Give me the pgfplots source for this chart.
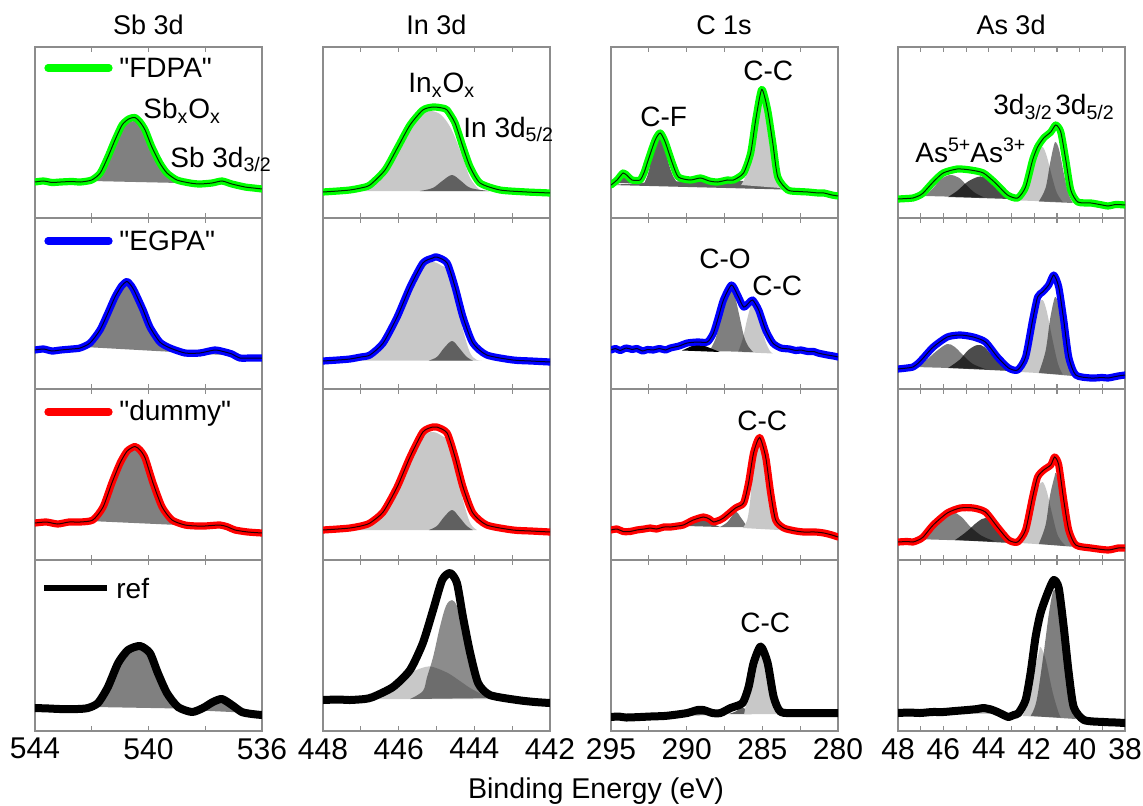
\documentclass[border=0pt]{standalone}
\usepackage{fontspec}
\setmainfont{Liberation Sans}[Ligatures=TeXOff]
\usepackage{pgfplots}
\usepackage{pgfplotstable}
\pgfplotsset{compat=1.18}
\definecolor{fgreen}{RGB}{0,255,0}
\definecolor{fblue}{RGB}{0,0,255}
\definecolor{fred}{RGB}{255,0,0}
\definecolor{lgray}{RGB}{200,200,200}
\definecolor{mgray}{RGB}{128,128,128}
\definecolor{dgray}{RGB}{96,96,96}
\definecolor{frame}{RGB}{140,140,140}
\pgfplotsset{
 panel/.style={width=113.5pt, height=85.5pt, scale only axis, anchor=south west,
   x dir=reverse, ymin=0, ymax=171, ytick=\empty,
   axis line style={draw=frame, line width=0.6pt},
   tick style={draw=frame, line width=0.6pt},
   major tick length=2.5pt, minor tick length=2.5pt, tick align=inside,
   xticklabel style={font=\fontsize{15}{15}\selectfont},
   /pgf/number format/assume math mode=true},
 colSb/.style={xmin=536, xmax=544, xtick={536,540,544}, minor xtick={538,542}},
 colIn/.style={xmin=442, xmax=448, xtick={442,444,446,448}, minor xtick={443,445,447}},
 colC/.style={xmin=280, xmax=295, xtick={280,285,290,295}, minor xtick={282.5,287.5,292.5}},
 colAs/.style={xmin=38, xmax=48, xtick={38,40,...,48}, minor xtick={39,41,...,47}},
 nolab/.style={xticklabels={}},
 data/.style={smooth, tension=0.4, line width=3.6pt, line join=round, line cap=round},
 refdata/.style={smooth, tension=0.4, line width=4pt, line join=round, line cap=round, black},
 fitline/.style={smooth, tension=0.4, black, line width=0.5pt, opacity=0.85},
 comp/.style={smooth, tension=0.55, draw=none},
}
% ---------------- data tables ----------------
\pgfplotstableread{
x y
544 36
543.7 37
543.4 35.5
543.1 36
542.7 36.5
542.4 36
542.0 38
541.7 45
541.43 61
541.18 78
540.93 93
540.7 99
540.48 100.5
540.3 96
540.12 88
539.88 71
539.6 55
539.35 45
539.0 38
538.54 35
538.2 34
537.76 35
537.41 37
537.06 34
536.6 31
536.3 30
536 29
}\SbA
\pgfplotstableread{
x y
544 39
543.7 40
543.4 38
543.1 39
542.7 40
542.41 41
542.06 46
541.71 59
541.43 76
541.18 92
540.95 103
540.76 107.5
540.6 103
540.48 97
540.19 79
539.95 62
539.6 47
539.24 41
538.71 36
538.19 36
537.66 39
537.3 37
537.06 35
536.78 31
536.4 31
536 31
}\SbB
\pgfplotstableread{
x y
544 37
543.6 38
543.2 36
542.8 38
542.41 38
541.96 40
541.6 53
541.29 77
541.0 97
540.75 109
540.48 113.5
540.3 110
540.12 102
539.84 77
539.52 53
539.17 40
538.71 35
538.3 34
538.01 34
537.48 35
537.2 33
536.95 30
536.5 28
536 27
}\SbC
\pgfplotstableread{
x y
544 23
543.5 22.5
543.12 22
542.5 22
542.13 23
541.78 28
541.43 44
541.07 68
540.72 81
540.3 85
539.95 78
539.67 58
539.35 38
538.96 24
538.47 19
538.08 23
537.73 29
537.41 32
537.06 26
536.71 19
536.35 17
536 16
}\SbD
\pgfplotstableread{
x y
448 26
447.6 27
447.29 28
447.0 30
446.76 33
446.36 48
446.02 71
445.7 93
445.36 108
445.09 111
444.85 110
444.72 108
444.51 95
444.30 71
444.11 51
443.85 35
443.32 28
442.61 26
442.3 25.5
442 25
}\InA
\pgfplotstableread{
x y
448 28
447.6 29
447.29 30
447.0 32
446.76 34
446.41 46
446.04 72
445.7 102
445.36 126
445.1 131
444.99 132
444.72 126
444.51 102
444.30 72
444.04 46
443.67 34
442.98 29
442.5 28
442 27
}\InB
\pgfplotstableread{
x y
448 30
447.6 31
447.29 32
447.0 34
446.76 37
446.41 48
446.04 73
445.7 103
445.36 128
445.1 133
444.99 133
444.72 127
444.51 103
444.30 73
444.04 47
443.67 35
442.98 30
442.5 29
442 28
}\InC
\pgfplotstableread{
x y
448 31
447.6 31.5
447.29 31
446.9 32
446.68 34
446.15 44
445.7 61
445.36 88
445.09 121
444.85 151
444.64 158
444.46 148
444.30 114
444.11 78
443.90 48
443.59 36
442.87 31
442.4 29
442 28
}\InD
\pgfplotstableread{
x y
295 33
294.6 38
294.2 45
293.9 42
293.61 38
293.08 38
292.8 46
292.54 58
292.08 78
291.75 85
291.42 76
290.95 55
290.55 41
289.76 38
289.09 40
288.5 37
287.96 36
287.3 38
286.90 38
286.24 45
285.77 65
285.44 98
285.04 128.5
284.65 108
284.31 75
283.98 41
283.32 28
282.6 26.5
281.99 26
281.3 25
280.93 25
280.4 23
280 22
}\CA
\pgfplotstableread{
x y
295 39
294.7 40.5
294.4 38.5
294.0 41
293.6 39.5
293.3 40.5
292.9 38
292.6 39.5
292.2 39
291.8 40.5
291.4 39
291.08 41
290.5 43
289.96 46
289.29 47
288.63 47
288.23 56
287.90 72
287.57 89
287.04 104
286.64 94
286.24 82
285.9 86
285.64 89
285.24 79
284.78 59
284.31 46
283.78 41
283.2 40
282.8 38.5
282.46 39
282.0 37.5
281.6 37.5
281.33 36
280.7 34
280.3 33
280 32
}\CB
\pgfplotstableread{
x y
295 30
294.6 31
294.2 28.5
293.74 28.5
293.3 30
292.8 31
292.41 32
292.0 31
291.5 33
291.08 33
290.6 34
290.22 35
289.56 40
288.89 43
288.5 41
288.23 38
287.8 40
287.57 42
286.77 52
286.24 57
285.91 77
285.58 107
285.18 122.5
284.78 103
284.45 67
284.12 40
283.58 32
282.8 29
282.26 28
281.5 28
280.93 27
280.4 25
280 23
}\CC
\pgfplotstableread{
x y
295 14
294.5 14.5
294 13.5
293.08 14
292.4 14.5
291.5 15
290.88 16
289.96 18
289.29 21
288.89 21
288.30 18
287.77 18
287.10 23
286.31 28
285.91 44
285.58 68
285.11 84.5
284.65 68
284.25 34
283.78 19
282.65 18
281.5 18
280.93 18
280 18
}\CD
\pgfplotstableread{
x y
48 19
47.6 19.5
47.34 20
47.1 22
46.89 25
46.45 36
46.01 45
45.39 49
44.81 48
44.24 45
43.71 35
43.18 23
42.73 20
42.38 31
42.07 58
41.85 71
41.58 80
41.27 86
41.05 93
40.83 86
40.61 58
40.39 28
40.08 16
39.5 15
39.0 13
38.75 12
38.4 13.5
38 13
}\AsA
\pgfplotstableread{
x y
48 20
47.6 21
47.34 22
47.1 26
46.89 31
46.45 42
45.83 52
45.26 54
44.68 52
44.15 47
43.62 32
43.13 21
42.73 19
42.38 32
42.07 69
41.85 92
41.63 97
41.36 104
41.14 114
40.92 102
40.70 69
40.48 32
40.17 14
39.5 11
39.0 11.5
38.75 11
38.3 13
38 14
}\AsB
\pgfplotstableread{
x y
48 18
47.6 18.5
47.34 18
47.1 20
46.89 23
46.45 35
45.83 47
45.26 52
44.68 52
44.15 48
43.62 33
43.13 20
42.73 18
42.38 30
42.07 63
41.85 83
41.58 90
41.27 95
41.10 103
40.92 95
40.70 60
40.48 30
40.17 15
39.5 12
38.75 10
38.3 12
38 12
}\AsC
\pgfplotstableread{
x y
48 18
47.5 18.5
47.03 18
46.5 19
46.01 19
45.5 20
44.95 21
44.5 22
44.24 23
43.9 21.5
43.62 19
43.3 15.5
43.13 14
42.9 16
42.69 18
42.38 31
42.16 58
41.94 94
41.72 118
41.41 138
41.14 151
40.92 143
40.70 104
40.48 58
40.26 24
39.81 11
38.93 9
38.4 8.5
38 8
}\AsD
\begin{document}
\begin{tikzpicture}
\useasboundingbox (0pt,0pt) rectangle (571.5pt,402.5pt);
% ===================== Sb 3d =====================
\begin{axis}[panel, colSb, nolab, at={(17.5pt,293.5pt)}]
\addplot[comp, fill=mgray] coordinates {(542.0,37) (541.7,42) (541.43,57) (541.18,74) (540.93,88) (540.7,95) (540.48,97) (540.3,93) (540.12,85) (539.88,68) (539.6,52) (539.35,42) (539.1,37) (538.9,35)} -- cycle;
\addplot[comp, fill=mgray] coordinates {(537.9,34) (537.6,35.5) (537.41,37) (537.2,35.5) (536.9,33)} -- cycle;
\addplot[data, fgreen] table {\SbA};
\addplot[fitline] table {\SbA};
\end{axis}
\begin{axis}[panel, colSb, nolab, at={(17.5pt,208pt)}]
\addplot[comp, fill=mgray] coordinates {(542.24,42) (542.06,45) (541.71,57) (541.43,73) (541.18,89) (540.95,100) (540.76,104) (540.6,100) (540.48,94) (540.19,76) (539.95,59) (539.6,44) (539.3,39) (539.1,37)} -- cycle;
\addplot[comp, fill=mgray] coordinates {(538.2,35) (537.9,36.5) (537.66,38) (537.4,36.5) (537.1,34)} -- cycle;
\addplot[data, fblue] table {\SbB};
\addplot[fitline] table {\SbB};
\end{axis}
\begin{axis}[panel, colSb, nolab, at={(17.5pt,122.5pt)}]
\addplot[comp, fill=mgray] coordinates {(542.06,39) (541.96,40) (541.6,51) (541.29,74) (541.0,94) (540.75,106) (540.48,110) (540.3,107) (540.12,99) (539.84,74) (539.52,50) (539.17,38) (538.96,35)} -- cycle;
\addplot[comp, fill=mgray] coordinates {(537.9,34) (537.6,35.5) (537.45,36) (537.2,34.5) (536.9,32)} -- cycle;
\addplot[data, fred] table {\SbC};
\addplot[fitline] table {\SbC};
\end{axis}
\begin{axis}[panel, colSb, at={(17.5pt,37pt)}]
\addplot[comp, fill=mgray] coordinates {(541.89,24) (541.78,27) (541.43,42) (541.07,65) (540.72,78) (540.3,82) (539.95,75) (539.67,55) (539.35,35) (539.0,24) (538.9,22.5)} -- cycle;
\addplot[comp, fill=mgray] coordinates {(538.2,20.5) (538.08,22) (537.73,27) (537.41,30) (537.06,24) (536.8,19) (536.7,18.5)} -- cycle;
\addplot[refdata] table {\SbD};
\end{axis}
% ===================== In 3d =====================
\begin{axis}[panel, colIn, nolab, at={(161.5pt,293.5pt)}]
\addplot[comp, fill=lgray] coordinates {(447.0,27) (446.76,31) (446.36,45) (446.02,68) (445.7,90) (445.36,104) (445.15,107) (444.91,104) (444.72,96) (444.56,85) (444.30,60) (444.11,40) (443.85,28) (443.6,27)} -- cycle;
\addplot[comp, fill=dgray] coordinates {(445.44,27) (445.1,30) (444.85,37) (444.59,43) (444.35,37) (444.1,30) (443.6,27)} -- cycle;
\addplot[data, fgreen] table {\InA};
\addplot[fitline] table {\InA};
\end{axis}
\begin{axis}[panel, colIn, nolab, at={(161.5pt,208pt)}]
\addplot[comp, fill=lgray] coordinates {(447.1,28.5) (446.76,32) (446.41,44) (446.04,69) (445.7,99) (445.36,122) (445.09,127) (444.85,123) (444.72,119) (444.51,92) (444.30,59) (444.11,36) (443.93,29) (443.8,28.5)} -- cycle;
\addplot[comp, fill=dgray] coordinates {(445.2,28.5) (444.99,32) (444.8,41) (444.59,48) (444.4,41) (444.2,32) (444.04,28.5)} -- cycle;
\addplot[data, fblue] table {\InB};
\addplot[fitline] table {\InB};
\end{axis}
\begin{axis}[panel, colIn, nolab, at={(161.5pt,122.5pt)}]
\addplot[comp, fill=lgray] coordinates {(447.1,30) (446.76,34) (446.41,45) (446.04,70) (445.7,100) (445.36,124) (445.09,128) (444.85,124) (444.72,119) (444.51,93) (444.30,60) (444.11,37) (443.93,30)} -- cycle;
\addplot[comp, fill=dgray] coordinates {(445.2,30) (444.99,34) (444.8,43) (444.59,50) (444.4,43) (444.2,34) (444.04,30)} -- cycle;
\addplot[data, fred] table {\InC};
\addplot[fitline] table {\InC};
\end{axis}
\begin{axis}[panel, colIn, at={(161.5pt,37pt)}]
\addplot[comp, fill=lgray] coordinates {(446.76,32) (446.5,36) (446.2,45) (445.7,58) (445.3,64) (445.09,64) (444.7,58) (444.38,50) (444.11,43) (443.8,37) (443.4,33) (443.2,32)} -- cycle;
\addplot[comp, fill=black, fill opacity=0.45] coordinates {(445.7,32) (445.36,40) (445.25,54) (445.09,74) (444.91,104) (444.75,125) (444.59,131) (444.45,124) (444.30,101) (444.11,71) (443.85,45) (443.52,33)} -- cycle;
\addplot[refdata] table {\InD};
\end{axis}
% ===================== C 1s =====================
\begin{axis}[panel, colC, nolab, at={(305.5pt,293.5pt)}]
\addplot[comp, fill=dgray] coordinates {(295,33) (292,36) (289,37) (286.3,37) (285,35) (283.6,28.5)} -- cycle;
\addplot[comp, fill=dgray] coordinates {(294.8,35) (294.5,38) (294.2,42) (293.9,38) (293.6,35)} -- cycle;
\addplot[comp, fill=dgray] coordinates {(292.8,35) (292.54,45) (292.2,68) (291.9,80) (291.75,82) (291.5,74) (291.2,55) (290.9,42) (290.6,35)} -- cycle;
\addplot[comp, fill=lgray] coordinates {(286.4,33) (286.1,42) (285.77,60) (285.44,92) (285.2,118) (285.04,124) (284.85,116) (284.65,102) (284.31,70) (284.0,42) (283.8,30)} -- cycle;
\addplot[data, fgreen] table {\CA};
\addplot[fitline] table {\CA};
\end{axis}
\begin{axis}[panel, colC, nolab, at={(305.5pt,208pt)}]
\addplot[comp, fill=black] coordinates {(290.3,38.5) (289.8,42) (289.29,45) (288.8,43) (288.3,40) (287.8,37)} -- cycle;
\addplot[comp, fill=lgray] coordinates {(286.6,37) (286.3,50) (286.0,70) (285.75,84) (285.6,86) (285.4,80) (285.1,65) (284.8,48) (284.5,38) (284.3,35.5)} -- cycle;
\addplot[comp, fill=black, fill opacity=0.5] coordinates {(288.5,38) (288.1,50) (287.7,72) (287.3,92) (287.04,100) (286.8,92) (286.5,72) (286.2,52) (285.9,42) (285.6,37)} -- cycle;
\addplot[data, fblue] table {\CB};
\addplot[fitline] table {\CB};
\end{axis}
\begin{axis}[panel, colC, nolab, at={(305.5pt,122.5pt)}]
\addplot[comp, fill=dgray] coordinates {(290.0,34) (289.5,37) (288.89,41) (288.4,37) (287.8,33)} -- cycle;
\addplot[comp, fill=black, fill opacity=0.55] coordinates {(287.8,33) (287.3,38) (286.77,48) (286.4,42) (286.0,33)} -- cycle;
\addplot[comp, fill=lgray] coordinates {(286.3,32) (286.0,40) (285.8,60) (285.58,98) (285.3,116) (285.18,118) (285.0,112) (284.78,98) (284.45,63) (284.2,40) (283.9,30)} -- cycle;
\addplot[data, fred] table {\CC};
\addplot[fitline] table {\CC};
\end{axis}
\begin{axis}[panel, colC, at={(305.5pt,37pt)}]
\addplot[comp, fill=dgray] coordinates {(290.2,15.5) (289.6,18) (289.2,20) (288.7,18) (288.2,16)} -- cycle;
\addplot[comp, fill=dgray] coordinates {(287.2,17) (286.7,20) (286.35,24) (286.0,20) (285.7,17)} -- cycle;
\addplot[comp, fill=lgray] coordinates {(286.2,17) (285.91,40) (285.58,64) (285.3,78) (285.11,80) (284.9,76) (284.65,64) (284.3,35) (284.0,20) (283.9,17)} -- cycle;
\addplot[refdata] table {\CD};
\end{axis}
% ===================== As 3d =====================
\begin{axis}[panel, colAs, nolab, at={(449pt,293.5pt)}]
\addplot[comp, fill=mgray] coordinates {(46.81,22) (46.45,30) (46.1,39) (45.7,43) (45.3,40) (44.95,32) (44.6,25) (44.2,20.5)} -- cycle;
\addplot[comp, fill=black, fill opacity=0.7] coordinates {(45.8,21) (45.4,27) (44.95,36) (44.5,41) (44.24,41) (43.9,36) (43.5,27) (43.04,19)} -- cycle;
\addplot[comp, fill=lgray] coordinates {(42.6,17.5) (42.3,30) (42.0,55) (41.8,66) (41.63,71) (41.45,62) (41.2,40) (41.0,25) (40.74,16)} -- cycle;
\addplot[comp, fill=black, fill opacity=0.5] coordinates {(41.8,16.5) (41.5,30) (41.3,55) (41.14,72) (41.05,76) (40.9,68) (40.7,45) (40.5,25) (40.3,15)} -- cycle;
\addplot[data, fgreen] table {\AsA};
\addplot[fitline] table {\AsA};
\end{axis}
\begin{axis}[panel, colAs, nolab, at={(449pt,208pt)}]
\addplot[comp, fill=mgray] coordinates {(47.25,22) (46.8,28) (46.3,38) (45.83,45) (45.5,42) (45.1,33) (44.7,25) (44.15,20)} -- cycle;
\addplot[comp, fill=black, fill opacity=0.7] coordinates {(45.8,21) (45.3,29) (44.9,39) (44.5,44) (44.2,42) (43.8,32) (43.4,23) (43.04,18)} -- cycle;
\addplot[comp, fill=lgray] coordinates {(42.6,17) (42.3,38) (42.0,70) (41.8,84) (41.63,89) (41.45,78) (41.2,50) (40.95,25) (40.74,14.5)} -- cycle;
\addplot[comp, fill=black, fill opacity=0.5] coordinates {(41.8,16) (41.5,38) (41.3,70) (41.14,88) (41.05,92) (40.9,82) (40.7,55) (40.5,28) (40.3,13)} -- cycle;
\addplot[data, fblue] table {\AsB};
\addplot[fitline] table {\AsB};
\end{axis}
\begin{axis}[panel, colAs, nolab, at={(449pt,122.5pt)}]
\addplot[comp, fill=mgray] coordinates {(47.25,21) (46.8,27) (46.3,38) (45.8,46) (45.57,48) (45.2,43) (44.8,33) (44.3,24) (43.71,18.5)} -- cycle;
\addplot[comp, fill=black, fill opacity=0.7] coordinates {(45.48,20) (45.0,28) (44.5,38) (44.15,42) (43.8,37) (43.4,27) (43.04,17)} -- cycle;
\addplot[comp, fill=lgray] coordinates {(42.6,17) (42.3,35) (42.0,62) (41.8,74) (41.63,78) (41.45,69) (41.2,45) (40.95,24) (40.61,14)} -- cycle;
\addplot[comp, fill=black, fill opacity=0.5] coordinates {(41.8,16) (41.5,35) (41.3,65) (41.1,84) (41.05,87) (40.9,78) (40.7,52) (40.45,26) (40.17,13)} -- cycle;
\addplot[data, fred] table {\AsC};
\addplot[fitline] table {\AsC};
\end{axis}
\begin{axis}[panel, colAs, at={(449pt,37pt)}]
\addplot[comp, fill=mgray, fill opacity=0.6] coordinates {(45.6,18) (45.0,19.5) (44.4,21) (44.0,20) (43.5,17)} -- cycle;
\addplot[comp, fill=lgray] coordinates {(42.51,15) (42.3,28) (42.0,60) (41.8,78) (41.72,84) (41.5,72) (41.2,40) (40.95,20) (40.83,13.5)} -- cycle;
\addplot[comp, fill=black, fill opacity=0.5] coordinates {(42.16,15) (41.9,30) (41.6,75) (41.35,118) (41.14,141) (40.95,130) (40.7,90) (40.45,45) (40.17,12)} -- cycle;
\addplot[refdata] table {\AsD};
\end{axis}
% ===================== texts =====================
\begin{scope}[every node/.style={inner sep=0pt}]
\node[anchor=base, font=\fontsize{13.5}{16}\selectfont] at (74.25pt,385pt) {Sb 3d};
\node[anchor=base, font=\fontsize{13.5}{16}\selectfont] at (218.25pt,385pt) {In 3d};
\node[anchor=base, font=\fontsize{13.5}{16}\selectfont] at (362pt,385pt) {C 1s};
\node[anchor=base, font=\fontsize{13.5}{16}\selectfont] at (505.5pt,385pt) {As 3d};
% legends
\draw[fgreen, line width=3.6pt, line cap=round] (24pt,368.5pt) -- (54.5pt,368.5pt);
\node[anchor=base west, font=\fontsize{14}{16}\selectfont] at (59.5pt,363.5pt) {"FDPA"};
\draw[fblue, line width=3.6pt, line cap=round] (24pt,282pt) -- (54.5pt,282pt);
\node[anchor=base west, font=\fontsize{14}{16}\selectfont] at (59.5pt,277.5pt) {"EGPA"};
\draw[fred, line width=3.6pt, line cap=round] (24pt,196.5pt) -- (54.5pt,196.5pt);
\node[anchor=base west, font=\fontsize{14}{16}\selectfont] at (59.5pt,192.5pt) {"dummy"};
\draw[black, line width=2.6pt] (22pt,108.5pt) -- (53.5pt,108.5pt);
\node[anchor=base west, font=\fontsize{14}{16}\selectfont] at (58pt,103.5pt) {ref};
% annotations
\node[anchor=base west, font=\fontsize{14}{16}\selectfont] at (71.5pt,343pt) {Sb\textsubscript{x}O\textsubscript{x}};
\node[anchor=base west, font=\fontsize{14}{16}\selectfont] at (85pt,319pt) {Sb 3d\textsubscript{3/2}};
\node[anchor=base west, font=\fontsize{14}{16}\selectfont] at (204pt,356pt) {In\textsubscript{x}O\textsubscript{x}};
\node[anchor=base west, font=\fontsize{14}{16}\selectfont] at (231.5pt,334pt) {In 3d\textsubscript{5/2}};
\node[anchor=base west, font=\fontsize{14}{16}\selectfont] at (320pt,339pt) {C-F};
\node[anchor=base west, font=\fontsize{14}{16}\selectfont] at (371.5pt,362pt) {C-C};
\node[anchor=base west, font=\fontsize{14}{16}\selectfont] at (349.5pt,268.5pt) {C-O};
\node[anchor=base west, font=\fontsize{14}{16}\selectfont] at (376pt,255pt) {C-C};
\node[anchor=base west, font=\fontsize{14}{16}\selectfont] at (368.5pt,187.5pt) {C-C};
\node[anchor=base west, font=\fontsize{14}{16}\selectfont] at (370pt,86.5pt) {C-C};
\node[anchor=base west, font=\fontsize{14}{16}\selectfont] at (457.5pt,321.5pt) {As\textsuperscript{5+}};
\node[anchor=base west, font=\fontsize{14}{16}\selectfont] at (485pt,321.5pt) {As\textsuperscript{3+}};
\node[anchor=base west, font=\fontsize{14}{16}\selectfont] at (496.5pt,345pt) {3d\textsubscript{3/2}};
\node[anchor=base west, font=\fontsize{14}{16}\selectfont] at (527.5pt,345pt) {3d\textsubscript{5/2}};
\node[anchor=base, font=\fontsize{14.3}{16}\selectfont] at (298pt,3.5pt) {Binding Energy (eV)};
\end{scope}
\end{tikzpicture}
\end{document}
